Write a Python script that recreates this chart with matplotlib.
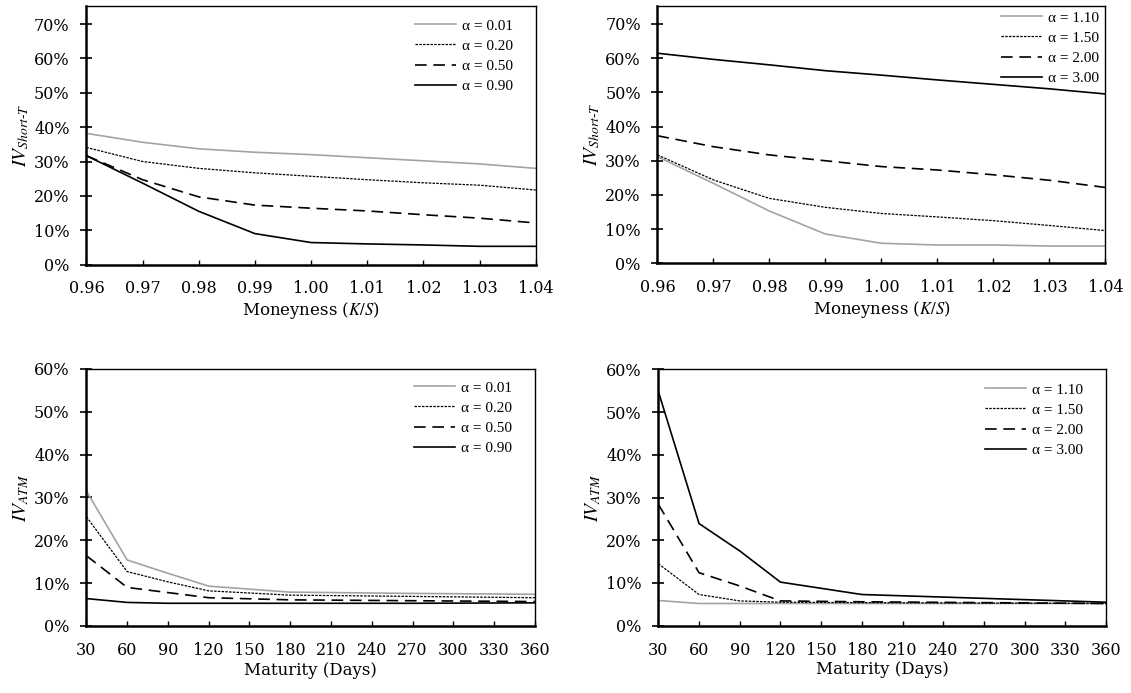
#!/usr/bin/env python3
"""Implied volatility curves for different alpha values (2x2 panels)."""

import matplotlib
matplotlib.use("Agg")
import matplotlib.pyplot as plt
from matplotlib.ticker import FuncFormatter, MultipleLocator

plt.rcParams["font.family"] = ["DejaVu Serif"]
plt.rcParams["mathtext.fontset"] = "stix"

# --- data ---------------------------------------------------------------
moneyness = [0.96, 0.97, 0.98, 0.99, 1.00, 1.01, 1.02, 1.03, 1.04]
maturity = [30, 60, 90, 120, 180, 270, 360]

alpha_low = ["0.01", "0.20", "0.50", "0.90"]
alpha_high = ["1.10", "1.50", "2.00", "3.00"]

smile_low = [
    [38.2, 35.6, 33.7, 32.7, 32.0, 31.1, 30.2, 29.3, 28.0],
    [34.1, 30.0, 28.0, 26.7, 25.7, 24.7, 23.8, 23.1, 21.7],
    [31.7, 24.7, 19.7, 17.3, 16.4, 15.6, 14.5, 13.5, 12.1],
    [31.7, 23.7, 15.5, 9.0, 6.4, 6.0, 5.7, 5.3, 5.3],
]
smile_high = [
    [31.2, 23.4, 15.3, 8.6, 5.9, 5.4, 5.4, 5.1, 5.1],
    [31.7, 24.4, 19.0, 16.4, 14.6, 13.6, 12.5, 11.1, 9.6],
    [37.3, 34.1, 31.7, 30.0, 28.3, 27.3, 25.9, 24.3, 22.2],
    [61.4, 59.6, 58.0, 56.3, 55.0, 53.6, 52.3, 51.0, 49.5],
]
term_low = [
    [31.5, 15.4, 12.3, 9.3, 7.9, 7.6, 7.4],
    [25.5, 12.7, 10.3, 8.2, 7.2, 6.9, 6.6],
    [16.4, 9.0, 7.8, 6.6, 6.1, 5.9, 5.7],
    [6.4, 5.5, 5.3, 5.3, 5.3, 5.3, 5.4],
]
term_high = [
    [5.9, 5.2, 5.2, 5.2, 5.2, 5.2, 5.2],
    [14.5, 7.3, 5.8, 5.5, 5.4, 5.3, 5.2],
    [28.4, 12.4, 9.3, 5.8, 5.6, 5.4, 5.2],
    [54.8, 23.9, 17.5, 10.2, 7.3, 6.4, 5.5],
]

STYLES = [
    dict(color="#a3a3a3", linestyle="-", linewidth=1.2),
    dict(color="black", linestyle=(0, (2, 1)), linewidth=0.9),
    dict(color="black", linestyle=(0, (7, 4)), linewidth=1.2),
    dict(color="black", linestyle="-", linewidth=1.2),
]

W, H = 1131, 693


def style_axis(ax, ymax, ylabel, xlabel, legend_at):
    ax.set_ylim(0, ymax)
    ax.yaxis.set_major_locator(MultipleLocator(0.1))
    ax.yaxis.set_major_formatter(FuncFormatter(lambda v, _: f"{v * 100:.0f}%"))
    ax.tick_params(axis="y", direction="inout", length=8, width=1.2,
                   labelsize=11.5, pad=8)
    ax.tick_params(axis="x", direction="in", length=3.5, width=1.0,
                   labelsize=11.5, pad=11.5)
    for side in ("left", "bottom"):
        ax.spines[side].set_linewidth(1.8)
    for side in ("top", "right"):
        ax.spines[side].set_linewidth(1.0)
    ax.set_ylabel(ylabel, fontsize=14, labelpad=2)
    ax.set_xlabel(xlabel, fontsize=12, labelpad=2)
    x_px, y_px = legend_at
    ax.legend(loc="upper left", bbox_to_anchor=(x_px / W, 1 - y_px / H),
              bbox_transform=ax.figure.transFigure, frameon=False,
              prop={"family": "Liberation Serif", "size": 11},
              handlelength=2.7, handletextpad=0.4,
              labelspacing=0.42, borderpad=0, borderaxespad=0)


def draw(ax, x, series, alphas):
    for values, alpha, style in zip(series, alphas, STYLES):
        ax.plot(x, [v / 100 for v in values], label=f"α = {alpha}", **style)


fig = plt.figure(figsize=(W / 100, H / 100), dpi=100)

ax1 = fig.add_axes([0.0764, 0.6183, 0.3973, 0.3726])
ax2 = fig.add_axes([0.5813, 0.6198, 0.3961, 0.3716])
ax3 = fig.add_axes([0.0764, 0.0967, 0.3965, 0.3709])
ax4 = fig.add_axes([0.5821, 0.0971, 0.3958, 0.3700])

short_label = r"$IV_{Short\text{-}T}$"
atm_label = r"$IV_{ATM}$"

for ax, series, alphas, leg in ((ax1, smile_low, alpha_low, (415, 19)),
                                (ax2, smile_high, alpha_high, (1001, 11))):
    draw(ax, moneyness, series, alphas)
    ax.set_xlim(0.96, 1.04)
    ax.set_xticks(moneyness, [f"{m:.2f}" for m in moneyness])
    style_axis(ax, 0.752, short_label, r"Moneyness ($K/S$)", leg)

for ax, series, alphas, leg in ((ax3, term_low, alpha_low, (414, 381)),
                                (ax4, term_high, alpha_high, (985, 383))):
    draw(ax, maturity, series, alphas)
    ax.set_xlim(30, 360)
    ax.set_xticks(range(30, 361, 30))
    style_axis(ax, 0.6, atm_label, "Maturity (Days)", leg)

fig.savefig("out.png", dpi=100)
